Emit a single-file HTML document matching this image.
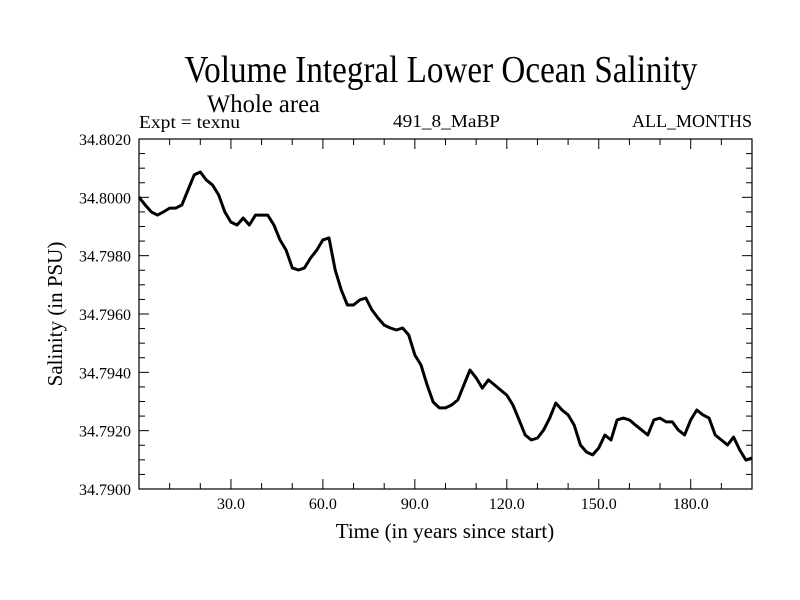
<!DOCTYPE html>
<html><head><meta charset="utf-8"><style>
body{margin:0;background:#fff}
svg{display:block;font-family:"Liberation Serif",serif}
</style></head><body>
<svg id="chart" width="800" height="600" viewBox="0 0 800 600">
<text x="441" y="82" font-size="38" text-anchor="middle" textLength="513" lengthAdjust="spacingAndGlyphs">Volume Integral Lower Ocean Salinity</text>
<text x="207" y="112" font-size="25" textLength="113" lengthAdjust="spacingAndGlyphs">Whole area</text>
<text x="139" y="128" font-size="18" textLength="101" lengthAdjust="spacingAndGlyphs">Expt = texnu</text>
<text x="393" y="127" font-size="18" textLength="107" lengthAdjust="spacingAndGlyphs">491_8_MaBP</text>
<text x="752" y="127" font-size="18" text-anchor="end" textLength="120" lengthAdjust="spacingAndGlyphs">ALL_MONTHS</text>
<g id="axes"></g>
<text x="445" y="538" font-size="21" text-anchor="middle">Time (in years since start)</text>
<text transform="translate(62,314) rotate(-90)" font-size="21" text-anchor="middle">Salinity (in PSU)</text>
</svg>
<script>
const years = [];
for (let i = 0; i <= 100; i++) years.push(i * 2);
const salinity = [34.80001,34.79974,34.79950,34.79939,34.79950,34.79963,34.79963,34.79974,34.80025,34.80077,
34.80087,34.80059,34.80042,34.80008,34.79950,34.79915,34.79905,34.79929,34.79905,34.79939,
34.79939,34.79939,34.79905,34.79854,34.79819,34.79758,34.79751,34.79758,34.79792,34.79819,
34.79854,34.79861,34.79751,34.79682,34.79631,34.79631,34.79648,34.79655,34.79614,34.79586,
34.79562,34.79552,34.79545,34.79552,34.79528,34.79459,34.79425,34.79357,34.79298,34.79278,
34.79278,34.79288,34.79305,34.79357,34.79408,34.79381,34.79346,34.79374,34.79357,34.79339,
34.79322,34.79288,34.79237,34.79185,34.79168,34.79175,34.79202,34.79243,34.79295,34.79271,
34.79254,34.79219,34.79151,34.79127,34.79117,34.79141,34.79185,34.79168,34.79237,34.79243,
34.79237,34.79219,34.79202,34.79185,34.79237,34.79243,34.79230,34.79230,34.79202,34.79185,
34.79237,34.79271,34.79254,34.79243,34.79185,34.79168,34.79151,34.79178,34.79134,34.79099,34.79106];
const xTickLabels = ["30.0","60.0","90.0","120.0","150.0","180.0"];
const yTickLabels = ["34.7900","34.7920","34.7940","34.7960","34.7980","34.8000","34.8020"];

const L=139,R=752,T=139,B=489,X0=0,X1=200,Y0=34.790,Y1=34.802;
const sx=v=>L+(v-X0)/(X1-X0)*(R-L);
const sy=v=>B-(v-Y0)/(Y1-Y0)*(B-T);
const NS="http://www.w3.org/2000/svg";
const g=document.getElementById('axes');
function mk(tag,attrs){const e=document.createElementNS(NS,tag);for(const k in attrs)e.setAttribute(k,attrs[k]);g.appendChild(e);return e;}
const frame=mk('rect',{x:L,y:T,width:R-L,height:B-T,fill:'none',stroke:'#000','stroke-width':1.2});


for(let t=10;t<200;t+=10){
  const len=(t%30===0)?10:6;const x=sx(t);
  const a=mk('line',{x1:x,y1:B,x2:x,y2:B-len,stroke:'#000','stroke-width':1});
  
  
  const b=mk('line',{x1:x,y1:T,x2:x,y2:T+len,stroke:'#000','stroke-width':1});
  
  
}
xTickLabels.forEach(s=>{
  const tx=mk('text',{x:sx(parseFloat(s)),y:509,'font-size':16,'text-anchor':'middle'});
  tx.textContent=s;
  
  
});
for(let i=1;i<24;i++){
  const v=Y0+i*0.0005;const len=(i%4===0)?10:6;const y=sy(v);
  const a=mk('line',{x1:L,y1:y,x2:L+len,y2:y,stroke:'#000','stroke-width':1});
  
  
  const b=mk('line',{x1:R,y1:y,x2:R-len,y2:y,stroke:'#000','stroke-width':1});
  
  
}
yTickLabels.forEach(s=>{
  const ty=mk('text',{x:131,y:sy(parseFloat(s))+6,'font-size':16,'text-anchor':'end'});
  ty.textContent=s;
  
  
});
const pts=years.map((t,i)=>sx(t).toFixed(1)+','+sy(salinity[i]).toFixed(1)).join(' ');
const line=mk('polyline',{points:pts,fill:'none',stroke:'#000','stroke-width':3,'stroke-linejoin':'round'});


</script>
</body></html>
